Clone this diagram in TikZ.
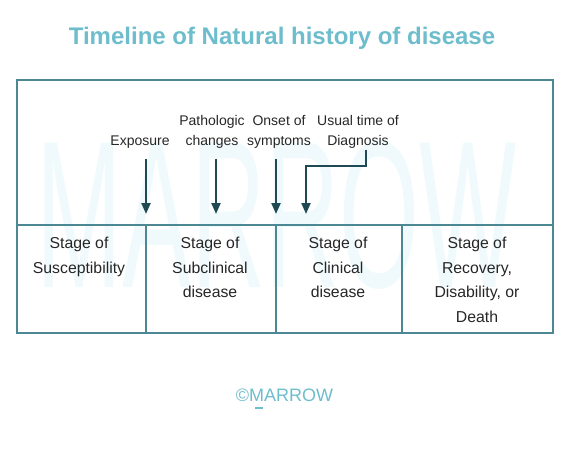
\documentclass[tikz,border=0pt]{standalone}
\usepackage{fontspec}
\setmainfont{Liberation Sans}
\usetikzlibrary{arrows.meta}

\definecolor{boxline}{HTML}{4C8894}
\definecolor{arrowcol}{HTML}{1F4A54}
\definecolor{titlecol}{HTML}{6DBDCC}
\definecolor{markcol}{HTML}{F0FAFC}
\tikzset{
  frame/.style={draw=boxline,line width=1.8pt},
  pointer/.style={draw=arrowcol,line width=2.2pt,-{Triangle[length=11pt,width=9pt]}},
  stagetext/.style={align=center,font=\fontsize{15.8}{24.5}\selectfont,text=black!85,anchor=north},
  eventtext/.style={align=center,font=\fontsize{14}{20}\selectfont,text=black!85,anchor=base}
}

\begin{document}
\begin{tikzpicture}[x=1pt,y=-1pt]
\useasboundingbox (0,0) rectangle (585,450);
% watermark
\node[text=markcol,font=\fontsize{210}{210}\selectfont,xscale=0.49] (mark) at (277,215) {MARROW};
\node[text=titlecol,font=\fontsize{24}{28}\selectfont\bfseries] (title) at (282,38) {Timeline of Natural history of disease};
% frame
\coordinate (A) at (17,80); \coordinate (B) at (553,333);
\coordinate (L) at (17,225); \coordinate (R) at (553,225);
\draw[frame] (A) rectangle (B);
\draw[frame] (L)--(R);
\coordinate (D1) at (146,225); \coordinate (D1b) at (146,333);
\coordinate (D2) at (276,225); \coordinate (D2b) at (276,333);
\coordinate (D3) at (402,225); \coordinate (D3b) at (402,333);
\draw[frame] (D1)--(D1b); \draw[frame] (D2)--(D2b); \draw[frame] (D3)--(D3b);
% stages
\node[stagetext] (s1) at (79,234) {Stage of\\Susceptibility};
\node[stagetext] (s2) at (210,234) {Stage of\\Subclinical\\disease};
\node[stagetext] (s3) at (338,234) {Stage of\\Clinical\\disease};
\node[stagetext] (s4) at (477,234) {Stage of\\Recovery,\\Disability, or\\Death};
% events
\node[eventtext] (e1) at (140,145) {Exposure};
\node[eventtext] (e2) at (212,145) {Pathologic\\changes};
\node[eventtext] (e3) at (279,145) {Onset of\\symptoms};
\node[eventtext] (e4) at (358,145) {Usual time of\\Diagnosis};
\coordinate (a1) at (146,159); \coordinate (t1) at (146,214);
\coordinate (a2) at (216,159); \coordinate (t2) at (216,214);
\coordinate (a3) at (276,159); \coordinate (t3) at (276,214);
\coordinate (a4) at (366,150); \coordinate (k1) at (366,166); \coordinate (k2) at (306,166); \coordinate (t4) at (306,214);
\draw[pointer] (a1)--(t1);
\draw[pointer] (a2)--(t2);
\draw[pointer] (a3)--(t3);
\draw[pointer] (a4)--(k1)--(k2)--(t4);
% footer
\node[text=titlecol,font=\fontsize{18}{20}\selectfont] (foot) at (284.5,395) {\copyright MARROW};
\coordinate (u1) at (255,408); \coordinate (u2) at (263,408);
\draw[titlecol,line width=1.5pt] (u1)--(u2);
\end{tikzpicture}
\end{document}
